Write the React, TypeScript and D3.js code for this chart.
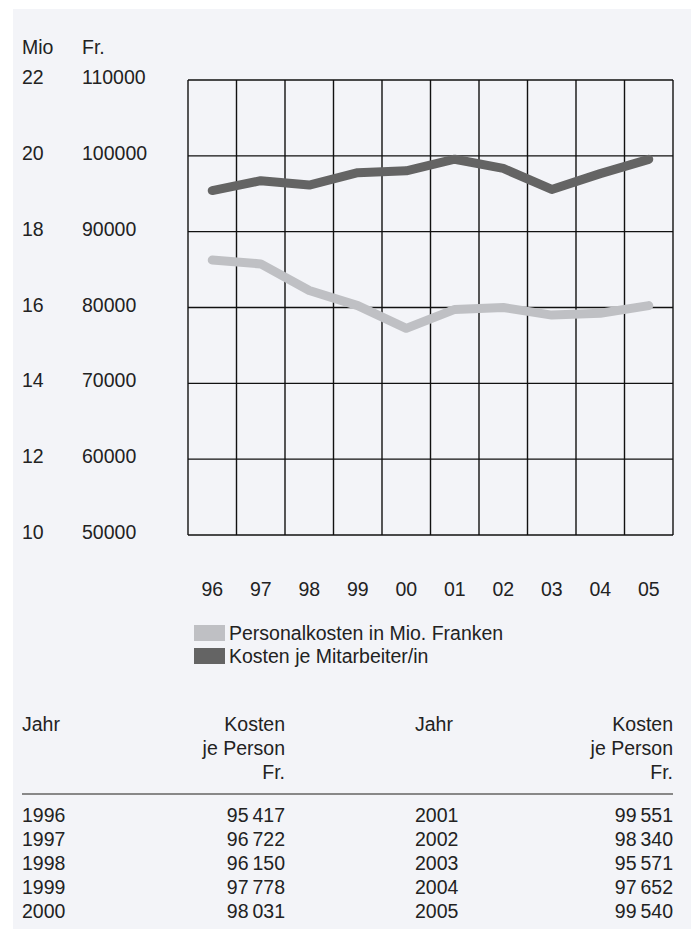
import * as d3 from 'd3';

const years = ['96', '97', '98', '99', '00', '01', '02', '03', '04', '05'];
// Personalkosten in Mio. Franken (left axis)
const personalkosten = [17.25, 17.15, 16.45, 16.05, 15.45, 15.95, 16.0, 15.8, 15.85, 16.05];
// Kosten je Mitarbeiter/in in Fr. (right axis)
const kostenJePerson = [95417, 96722, 96150, 97778, 98031, 99551, 98340, 95571, 97652, 99540];
const tableYears = [1996, 1997, 1998, 1999, 2000, 2001, 2002, 2003, 2004, 2005];
const leftTicks = [10, 12, 14, 16, 18, 20, 22];
const rightTicks = [50000, 60000, 70000, 80000, 90000, 100000, 110000];
const legendLabels = ['Personalkosten in Mio. Franken', 'Kosten je Mitarbeiter/in'];

const W = 691;
const H = 940;
const plot = { left: 188, right: 673, top: 80, bottom: 535 };
const lightGrey = '#bfc0c4';
const darkGrey = '#646464';
const font = '"Liberation Sans", Arial, sans-serif';
const fs = 19.5;

const fmt = (v: number) => {
  const s = String(v);
  return s.slice(0, s.length - 3) + '\u2009' + s.slice(-3);
};

const App = () => {
  const x = d3.scaleBand<string>().domain(years).range([plot.left, plot.right]);
  const yLeft = d3.scaleLinear().domain([10, 22]).range([plot.bottom, plot.top]);
  const yRight = d3.scaleLinear().domain([50000, 110000]).range([plot.bottom, plot.top]);
  const cx = (d: string) => (x(d) ?? 0) + x.bandwidth() / 2;

  const lineLeft = d3
    .line<number>()
    .x((_, i) => cx(years[i]))
    .y((d) => yLeft(d));
  const lineRight = d3
    .line<number>()
    .x((_, i) => cx(years[i]))
    .y((d) => yRight(d));

  const rowY = (i: number) => 822 + i * 24;

  return (
    <svg
      width={W}
      height={H}
      style={{ position: 'absolute', left: 0, top: 0, fontFamily: font }}
    >
      <rect x={13} y={9} width={W - 13} height={920} fill='#f3f4f8' />

      {/* axis titles */}
      <text x={22} y={54} fontSize={fs} fill='#222'>Mio</text>
      <text x={82} y={54} fontSize={fs} fill='#222'>Fr.</text>

      {/* grid */}
      {leftTicks.map((t) => (
        <line
          key={'h' + t}
          x1={plot.left}
          x2={plot.right}
          y1={yLeft(t)}
          y2={yLeft(t)}
          stroke='#111'
          strokeWidth={1.4}
        />
      ))}
      {[...years.map((d) => x(d) ?? 0), plot.right].map((v, i) => (
        <line
          key={'v' + i}
          x1={v}
          x2={v}
          y1={plot.top}
          y2={plot.bottom}
          stroke='#111'
          strokeWidth={1.4}
        />
      ))}

      {/* tick labels */}
      {leftTicks.map((t, i) => (
        <g key={'t' + t}>
          <text x={22} y={yLeft(t) + 4} fontSize={fs} fill='#222'>{t}</text>
          <text x={82} y={yLeft(t) + 4} fontSize={fs} fill='#222'>{rightTicks[i]}</text>
        </g>
      ))}
      {years.map((d) => (
        <text key={'x' + d} x={cx(d)} y={596} fontSize={fs} fill='#222' textAnchor='middle'>
          {d}
        </text>
      ))}

      {/* lines */}
      <path
        d={lineLeft(personalkosten) ?? ''}
        fill='none'
        stroke={lightGrey}
        strokeWidth={9}
        strokeLinecap='round'
        strokeLinejoin='round'
      />
      <path
        d={lineRight(kostenJePerson) ?? ''}
        fill='none'
        stroke={darkGrey}
        strokeWidth={9}
        strokeLinecap='round'
        strokeLinejoin='round'
      />

      {/* legend */}
      {legendLabels.map((l, i) => (
        <g key={l}>
          <rect x={194} y={625 + i * 23} width={31} height={16} fill={i === 0 ? lightGrey : darkGrey} />
          <text x={229} y={640 + i * 23} fontSize={fs} fill='#222'>{l}</text>
        </g>
      ))}

      {/* table */}
      {[0, 1].map((c) => {
        const xl = c === 0 ? 22 : 415;
        const xr = c === 0 ? 285 : 673;
        return (
          <g key={'tab' + c} fontSize={fs} fill='#222'>
            <text x={xl} y={731}>Jahr</text>
            <text x={xr} y={731} textAnchor='end'>Kosten</text>
            <text x={xr} y={755} textAnchor='end'>je Person</text>
            <text x={xr} y={779} textAnchor='end'>Fr.</text>
            {tableYears.slice(c * 5, c * 5 + 5).map((yr, i) => (
              <g key={yr}>
                <text x={xl} y={rowY(i)}>{yr}</text>
                <text x={xr} y={rowY(i)} textAnchor='end'>{fmt(kostenJePerson[c * 5 + i])}</text>
              </g>
            ))}
          </g>
        );
      })}
      <line x1={22} x2={673} y1={794} y2={794} stroke='#888' strokeWidth={2} />
    </svg>
  );
};

export default App;
